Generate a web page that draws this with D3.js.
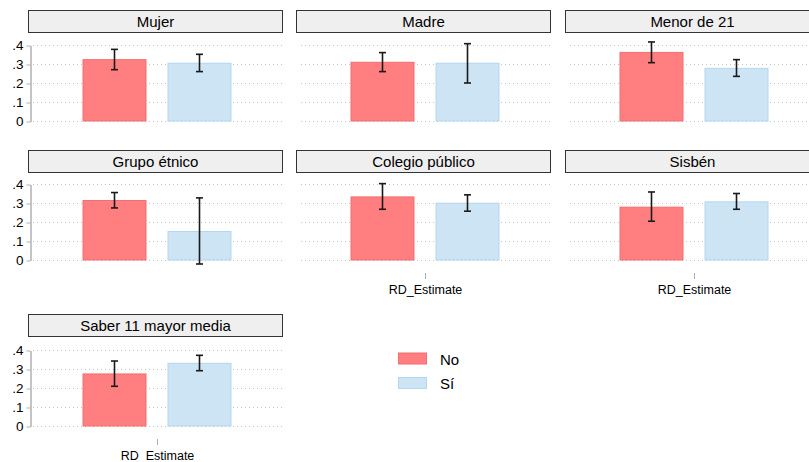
<!DOCTYPE html>
<html>
<head>
<meta charset="utf-8">
<script src="https://cdn.jsdelivr.net/npm/d3@7"></script>
<style>
  html, body { margin: 0; padding: 0; background: #fff; }
  svg { display: block; font-family: "Liberation Sans", Arial, Helvetica, sans-serif; }
</style>
</head>
<body>
<svg id="chart" width="809" height="462"></svg>
<script>
// Panel titles (one panel per subgroup)
const panels = ["Mujer", "Madre", "Menor de 21", "Grupo étnico", "Colegio público", "Sisbén", "Saber 11 mayor media"];
const groups = ["No", "Sí"];
const xCategory = ["RD_Estimate"];

// RD estimates and confidence bounds, group "No"
const estNo = [0.323, 0.309, 0.361, 0.313, 0.332, 0.278, 0.274];
const loNo  = [0.270, 0.260, 0.307, 0.274, 0.267, 0.204, 0.209];
const hiNo  = [0.377, 0.360, 0.416, 0.355, 0.402, 0.358, 0.342];

// RD estimates and confidence bounds, group "Sí"
const estSi = [0.304, 0.304, 0.277, 0.150, 0.299, 0.306, 0.330];
const loSi  = [0.260, 0.200, 0.235, -0.021, 0.257, 0.267, 0.291];
const hiSi  = [0.351, 0.407, 0.323, 0.327, 0.343, 0.350, 0.372];

const yTicks = [0, 0.1, 0.2, 0.3, 0.4];
const yTickLabels = ["0", ".1", ".2", ".3", ".4"];

const fills   = { "No": "#ff7f80", "Sí": "#cde4f4" };
const strokes = { "No": "#ef6f72", "Sí": "#b3d6f1" };

const svg = d3.select("#chart");

// Grid layout of the small multiples
const colX = [30, 298, 567];
const panelW = 254;
const rowHeaderTop = [10, 150, 314];
const rowPlotTop = [45, 184, 350];
const plotH = 76;
const headerH = 22;

// Panels that carry an x axis (bottom of each column)
const withXAxis = new Set([4, 5, 6]);

panels.forEach((title, i) => {
  const row = Math.floor(i / 3), col = i % 3;
  const x0 = colX[col];
  const top = rowPlotTop[row];

  const g = svg.append("g");

  // Panel header strip
  g.append("rect")
    .attr("x", x0 - 1.5).attr("y", rowHeaderTop[row] + 0.5)
    .attr("width", panelW).attr("height", headerH)
    .attr("fill", "#efefef").attr("stroke", "#333").attr("stroke-width", 1);
  g.append("text")
    .attr("x", x0 - 1.5 + panelW / 2).attr("y", rowHeaderTop[row] + headerH / 2 + 5.5)
    .attr("text-anchor", "middle").attr("font-size", 15).attr("fill", "#000")
    .attr("textLength", null)
    .text(title);

  const y = d3.scaleLinear().domain([0, 0.4]).range([top + plotH, top]);
  const xBand = d3.scaleBand().domain(xCategory).range([x0, x0 + panelW]);
  const center = xBand(xCategory[0]) + xBand.bandwidth() / 2;
  const xg = d3.scalePoint().domain(groups).range([center - 42.5, center + 42.5]);
  const barW = 64;

  // Dotted gridlines
  g.append("g").selectAll("line").data(yTicks).join("line")
    .attr("x1", x0 + 3).attr("x2", x0 + panelW - 1)
    .attr("y1", d => Math.round(y(d)) + 0.5).attr("y2", d => Math.round(y(d)) + 0.5)
    .attr("stroke", "#c4c4c4").attr("stroke-width", 1)
    .attr("stroke-dasharray", "1,3");

  // Y axis on the first column only
  if (col === 0) {
    const ax = g.append("g").attr("transform", `translate(${x0 + 0.5},0.5)`)
      .call(d3.axisLeft(y).tickValues(yTicks).tickSize(4).tickSizeOuter(0)
        .tickFormat((d, k) => yTickLabels[k]));
    ax.select(".domain").attr("stroke", "#b0b0b0").attr("stroke-width", 1.5);
    ax.selectAll(".tick line").attr("stroke", "#b0b0b0");
    ax.selectAll(".tick text").attr("font-size", 13.5).attr("fill", "#000")
      .attr("font-family", "Liberation Sans, Arial, sans-serif").attr("x", -7);
  }

  const rows = [
    { grp: "No", est: estNo[i], lo: loNo[i], hi: hiNo[i] },
    { grp: "Sí", est: estSi[i], lo: loSi[i], hi: hiSi[i] }
  ];

  // Bars
  g.append("g").selectAll("rect").data(rows).join("rect")
    .attr("x", d => xg(d.grp) - barW / 2 + 0.5)
    .attr("y", d => y(d.est))
    .attr("width", barW - 1)
    .attr("height", d => y(0) - y(d.est))
    .attr("fill", d => fills[d.grp])
    .attr("stroke", d => strokes[d.grp]).attr("stroke-width", 1);

  // Confidence interval whiskers
  const eb = g.append("g").selectAll("g").data(rows).join("g");
  eb.append("line")
    .attr("x1", d => xg(d.grp)).attr("x2", d => xg(d.grp))
    .attr("y1", d => y(d.lo)).attr("y2", d => y(d.hi))
    .attr("stroke", "#1a1a1a").attr("stroke-width", 1.6);
  ["lo", "hi"].forEach(k => {
    eb.append("line")
      .attr("x1", d => xg(d.grp) - 3.5).attr("x2", d => xg(d.grp) + 3.5)
      .attr("y1", d => y(d[k])).attr("y2", d => y(d[k]))
      .attr("stroke", "#1a1a1a").attr("stroke-width", 1.6);
  });

  // X axis tick and label for panels at the bottom of a column
  if (withXAxis.has(i)) {
    const xa = g.append("g").attr("transform", `translate(0.5,${top + plotH + 13})`)
      .call(d3.axisBottom(xBand).tickSize(6).tickSizeOuter(0));
    xa.select(".domain").remove();
    xa.selectAll(".tick line").attr("stroke", "#b0b0b0");
    xa.selectAll(".tick text").attr("font-size", 12.5).attr("fill", "#000")
      .attr("font-family", "Liberation Sans, Arial, sans-serif")
      .attr("y", 21).attr("dy", 0);
  }
});

// Legend
const legend = svg.append("g");
const ly = d3.scalePoint().domain(groups).range([358.5, 383]);
legend.selectAll("rect").data(groups).join("rect")
  .attr("x", 398.5).attr("y", d => ly(d) - 5.5)
  .attr("width", 28).attr("height", 11)
  .attr("fill", d => fills[d]).attr("stroke", d => strokes[d]);
legend.selectAll("text").data(groups).join("text")
  .attr("x", 440).attr("y", d => ly(d) + 6)
  .attr("font-size", 15).attr("fill", "#000")
  .text(d => d);
</script>
</body>
</html>
